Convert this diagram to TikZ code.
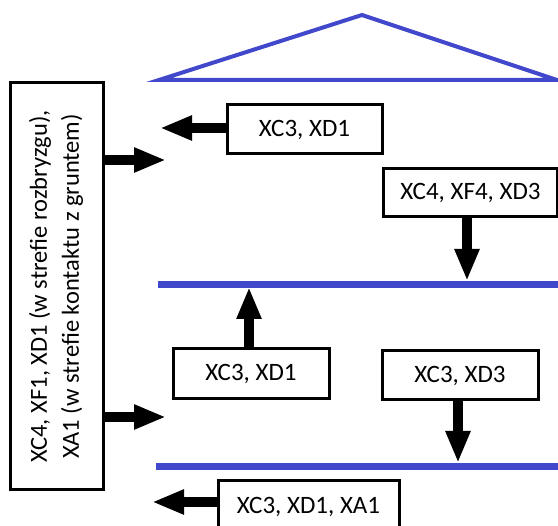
\documentclass[tikz,border=0pt]{standalone}
\usepackage{fontspec}
\setmainfont{Carlito}
\usetikzlibrary{arrows.meta}
\definecolor{slabblue}{RGB}{65,72,204}
\tikzset{
  label box/.style={draw=black, line width=3pt, fill=white, inner sep=0pt,
    font=\fontsize{25}{30}\selectfont},
  fat arrow/.style={line width=10pt, -{Triangle[length=32pt,width=23pt]}, shorten >=0pt},
  slab/.style={draw=slabblue, line width=7pt},
  roof/.style={draw=slabblue, line width=4pt, line join=miter},
}
\begin{document}
\begin{tikzpicture}[x=1pt,y=-1pt]
\useasboundingbox (0,0) rectangle (558,526);
% roof
\draw[roof] (159,80) coordinate (r1) -- (362,15) coordinate (r2) -- (557,80) coordinate (r3) -- cycle;
% slabs
\draw[slab] (158,285) coordinate (s2a) -- (558,285) coordinate (s2b);
\draw[slab] (156,467) coordinate (s3a) -- (558,467) coordinate (s3b);
% boxes
\node[label box, minimum width=155pt, minimum height=49pt] (b1) at (304.5,129.5) {XC3, XD1};
\node[label box, minimum width=174pt, minimum height=48pt] (b2) at (470.5,193) {XC4, XF4, XD3};
\node[label box, minimum width=156pt, minimum height=50pt] (b3) at (251,374) {XC3, XD1};
\node[label box, minimum width=156pt, minimum height=49pt] (b4) at (460,375.5) {XC3, XD3};
\node[label box, minimum width=181pt, minimum height=52pt] (b5) at (308.5,507) {XC3, XD1, XA1};
\node[label box, minimum width=93pt, minimum height=407pt] (lb) at (56.5,286.5)
  {\rotatebox{90}{\fontsize{24.5}{32}\selectfont\begin{tabular}{@{}c@{}}XC4, XF1, XD1 (w strefie rozbryzgu),\\XA1 (w strefie kontaktu z gruntem)\end{tabular}}};
% arrow tips
\coordinate (t1) at (160,128);
\coordinate (tl1) at (166,160);
\coordinate (tl2) at (166,417);
\coordinate (t2) at (467,281);
\coordinate (t3) at (249,287);
\coordinate (t4) at (458,463);
\coordinate (t5) at (152,502);
% arrows
\draw[fat arrow] (b1.west |- t1) -- (t1);
\draw[fat arrow] (lb.east |- tl1) -- (tl1);
\draw[fat arrow] (lb.east |- tl2) -- (tl2);
\draw[fat arrow] (b2.south -| t2) -- (t2);
\draw[fat arrow] (b3.north -| t3) -- (t3);
\draw[fat arrow] (b4.south -| t4) -- (t4);
\draw[fat arrow] (b5.west |- t5) -- (t5);
\end{tikzpicture}
\end{document}
